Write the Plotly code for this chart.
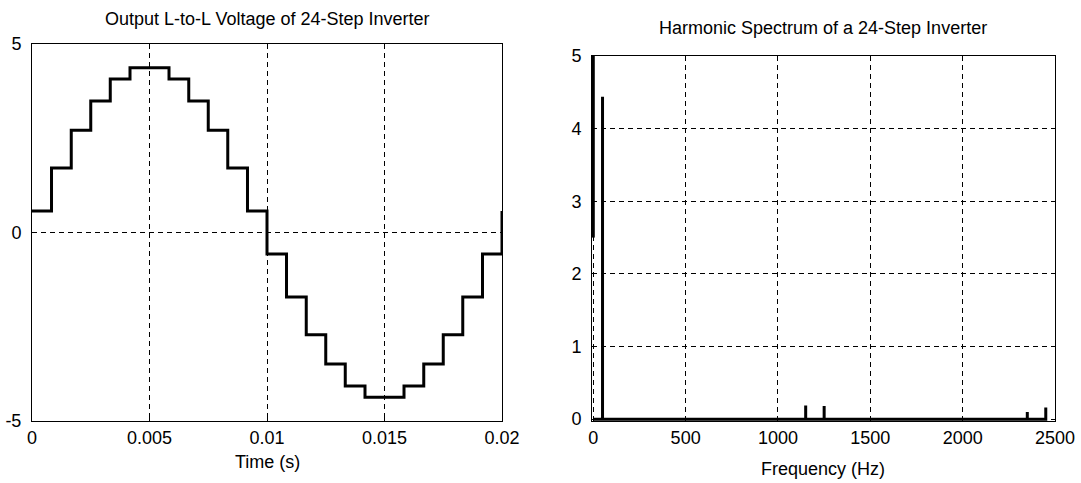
import plotly.graph_objects as go

# ---- Left: 24-step line-to-line output voltage ----
step_times = [0, 0.00083, 0.00167, 0.0025, 0.00333, 0.00417, 0.005, 0.00583,
              0.00667, 0.0075, 0.00833, 0.00917, 0.01, 0.01083, 0.01167, 0.0125,
              0.01333, 0.01417, 0.015, 0.01583, 0.01667, 0.0175, 0.01833, 0.01917, 0.02]
step_levels = [0.57, 1.71, 2.71, 3.49, 4.07, 4.37, 4.37, 4.07, 3.49, 2.71, 1.71, 0.57,
               -0.57, -1.71, -2.71, -3.49, -4.07, -4.37, -4.37, -4.07, -3.49, -2.71, -1.71, -0.57,
               0.57]
time_ticks = [0, 0.005, 0.01, 0.015, 0.02]
time_tick_labels = ["0", "0.005", "0.01", "0.015", "0.02"]
volt_ticks = [-5, 0, 5]
volt_tick_labels = ["-5", "0", "5"]

# ---- Right: harmonic spectrum ----
harm_freqs = [50, 1150, 1250, 2350, 2450]
harm_amps = [4.44, 0.19, 0.18, 0.10, 0.16]
dc_low, dc_high = 2.5, 5.0
freq_ticks = [0, 500, 1000, 1500, 2000, 2500]
amp_ticks = [0, 1, 2, 3, 4, 5]

# build stem-like spectrum path
spec_x = [0, 0, None, 0]
spec_y = [dc_high, dc_low, None, 0]
for f, a in zip(harm_freqs, harm_amps):
    spec_x += [f, f, f]
    spec_y += [0, a, 0]

W, H = 1081, 483
FONT = "Liberation Sans, Arial, sans-serif"
fs = 18

fig = go.Figure()
fig.add_trace(go.Scatter(x=step_times, y=step_levels, mode="lines",
                         line=dict(color="black", width=3, shape="hv"),
                         xaxis="x", yaxis="y", showlegend=False))
fig.add_trace(go.Scatter(x=spec_x, y=spec_y, mode="lines",
                         line=dict(color="black", width=3),
                         xaxis="x2", yaxis="y2", showlegend=False, connectgaps=False))

def px_x(p):
    return p / W

def px_y(p):
    return 1 - p / H

axis_common = dict(showline=True, mirror=True, linecolor="black", linewidth=1,
                   ticks="inside", ticklen=4, tickcolor="black", automargin=False,
                   showgrid=True, gridcolor="black", gridwidth=1, griddash="5px,4px",
                   zeroline=False, tickfont=dict(family=FONT, size=fs, color="black"))

fig.update_layout(
    width=W, height=H,
    margin=dict(l=0, r=0, t=0, b=0, pad=0),
    paper_bgcolor="white", plot_bgcolor="white",
    font=dict(family=FONT, size=fs, color="black"),
    xaxis=dict(domain=[px_x(32), px_x(502)], range=[0, 0.02],
               tickvals=time_ticks, ticktext=time_tick_labels, anchor="y", **axis_common),
    yaxis=dict(domain=[px_y(421), px_y(44)], range=[-5, 5], ticklabelstandoff=6,
               tickvals=volt_ticks, ticktext=volt_tick_labels, anchor="x", **axis_common),
    xaxis2=dict(domain=[px_x(592), px_x(1055)], range=[-7, 2500],
                tickvals=freq_ticks, anchor="y2", **axis_common),
    yaxis2=dict(domain=[px_y(421), px_y(56)], range=[-0.025, 5], ticklabelstandoff=6,
                tickvals=amp_ticks, anchor="x2", **axis_common),
    annotations=[
        dict(text="Output L-to-L Voltage of 24-Step Inverter", x=px_x(267), y=px_y(19),
             xref="paper", yref="paper", showarrow=False, xanchor="center", yanchor="middle",
             font=dict(family=FONT, size=fs)),
        dict(text="Harmonic Spectrum of a 24-Step Inverter", x=px_x(823), y=px_y(28),
             xref="paper", yref="paper", showarrow=False, xanchor="center", yanchor="middle",
             font=dict(family=FONT, size=fs)),
        dict(text="Time (s)", x=px_x(267), y=px_y(462),
             xref="paper", yref="paper", showarrow=False, xanchor="center", yanchor="middle",
             font=dict(family=FONT, size=fs)),
        dict(text="Frequency (Hz)", x=px_x(823), y=px_y(469),
             xref="paper", yref="paper", showarrow=False, xanchor="center", yanchor="middle",
             font=dict(family=FONT, size=fs)),
    ],
)

fig.write_html("out.html", config={"displayModeBar": False})

# remove the default page margin so the figure sits at the window's top-left corner
with open("out.html", "r", encoding="utf-8") as fh:
    html = fh.read()
html = html.replace("<head>", "<head><style>html,body{margin:0;padding:0;overflow:hidden;}</style>", 1)
with open("out.html", "w", encoding="utf-8") as fh:
    fh.write(html)
